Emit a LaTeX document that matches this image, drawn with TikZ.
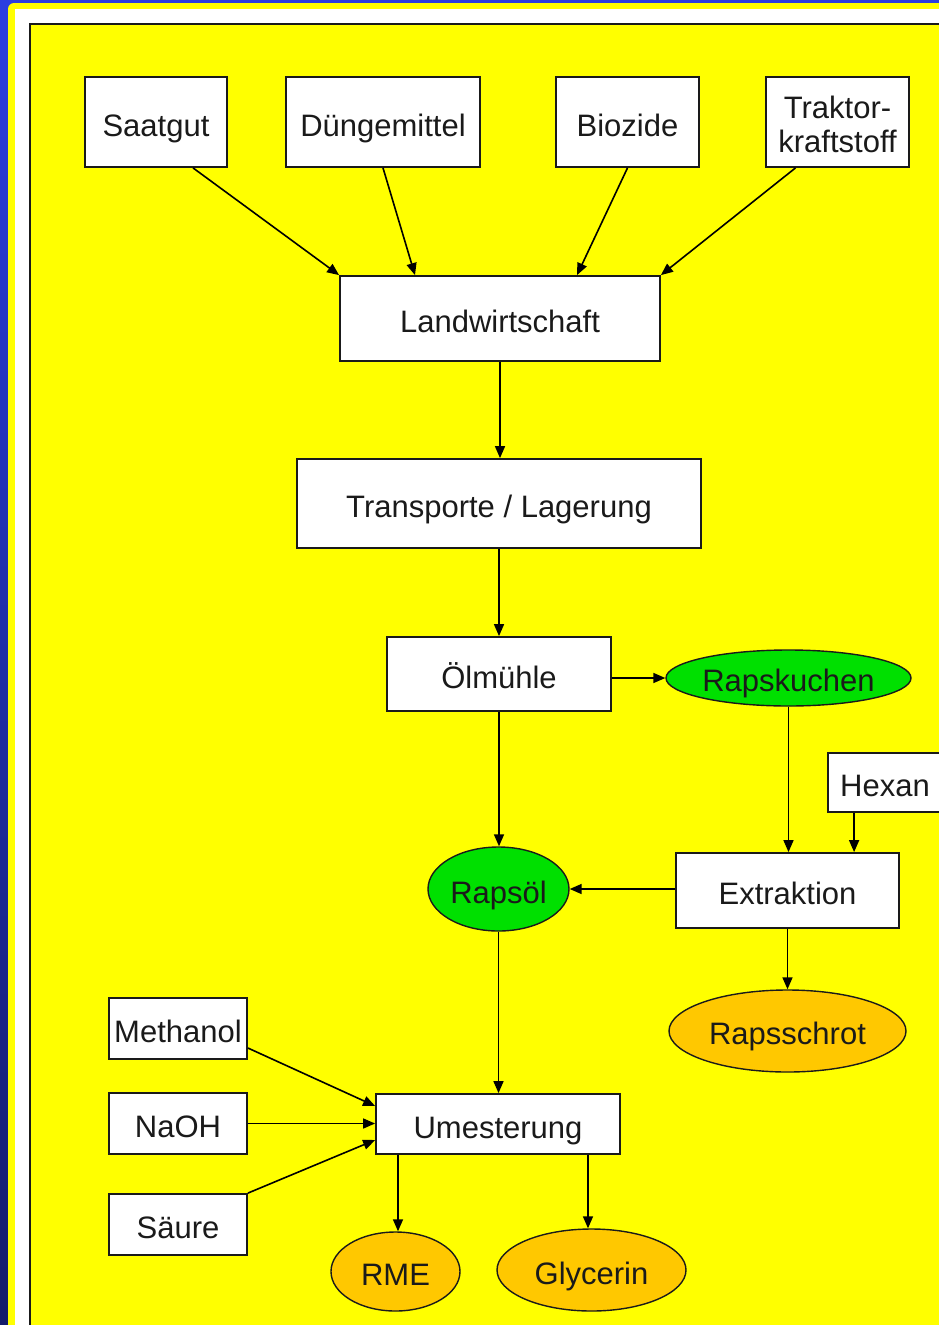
\documentclass[tikz,border=0pt]{standalone}
\usepackage{fontspec}
\setmainfont{Liberation Sans}
\usetikzlibrary{arrows.meta,shapes.geometric,calc}
\definecolor{bgblueA}{HTML}{2B3EE0}
\definecolor{bgblueB}{HTML}{141C6A}
\definecolor{plateyellow}{HTML}{FFFF00}
\definecolor{leafgreen}{HTML}{00E000}
\definecolor{amber}{HTML}{FFC800}
\definecolor{ink}{HTML}{1A1A1A}
\tikzset{
  boxbase/.style={draw=ink, line width=1.8pt, fill=white, rectangle, inner sep=0pt,
              font=\fontsize{31}{34}\selectfont, text=ink, align=center},
  box/.style={boxbase, text height=28pt, text depth=0pt},
  product/.style={draw=ink, line width=1.4pt, ellipse, inner sep=0pt,
              font=\fontsize{31}{34}\selectfont, text=ink, text height=27pt, text depth=0pt},
  arr/.style={draw=black, line width=1.6pt, -{Triangle[length=12pt,width=10pt]}},
}
\begin{document}
\begin{tikzpicture}[x=1pt,y=-1pt]
  \useasboundingbox (0,0) rectangle (939,1325);
  \clip (0,0) rectangle (939,1325);
  % backdrop and frame
  \shade[top color=bgblueA, bottom color=bgblueB] (0,0) rectangle (939,1325);
  \fill[plateyellow, rounded corners=6pt] (8,3) rectangle (960,1340);
  \fill[white] (15,9) rectangle (960,1340);
  \draw[ink, line width=1.8pt, fill=plateyellow] (30,24) rectangle (960,1340);

  % inputs to agriculture
  \node[box, minimum width=142pt, minimum height=90pt] (saat) at (156,122) {Saatgut};
  \node[box, minimum width=194pt, minimum height=90pt] (dung) at (383,122) {Düngemittel};
  \node[box, minimum width=143pt, minimum height=90pt] (bio)  at (627.5,122) {Biozide};
  \node[boxbase, minimum width=143pt, minimum height=90pt] (trak) at (837.5,122) {};
  \node[font=\fontsize{31}{34}\selectfont, text=ink, align=center, inner sep=0pt]
       (traktext) at ([yshift=-2pt]trak.center) {Traktor-\\kraftstoff};

  % main chain
  \node[box, minimum width=320pt, minimum height=85pt] (land)  at (500,318.5) {Landwirtschaft};
  \node[box, minimum width=404pt, minimum height=89pt] (trans) at (499,503.5) {Transporte / Lagerung};
  \node[box, minimum width=224pt, minimum height=74pt] (oel)   at (499,674) {Ölmühle};
  \node[product, fill=leafgreen, minimum width=245pt, minimum height=56pt] (rk) at (788.5,678) {Rapskuchen};
  \node[box, minimum width=114pt, minimum height=59pt] (hex)   at (885,782.5) {Hexan};
  \node[box, minimum width=223pt, minimum height=75pt] (extr)  at (787.5,890.5) {Extraktion};
  \node[product, fill=leafgreen, minimum width=141pt, minimum height=84pt, text height=29pt] (rol) at (498.5,889) {Rapsöl};
  \node[product, fill=amber, minimum width=237pt, minimum height=82pt] (rs) at (787.5,1031) {Rapsschrot};

  % transesterification
  \node[box, minimum width=138pt, minimum height=61pt] (meth) at (178,1028.5) {Methanol};
  \node[box, minimum width=138pt, minimum height=61pt] (naoh) at (178,1123.5) {NaOH};
  \node[box, minimum width=138pt, minimum height=61pt] (sau)  at (178,1224.5) {Säure};
  \node[box, minimum width=244pt, minimum height=60pt] (umest) at (498,1124) {Umesterung};
  \node[product, fill=amber, minimum width=129pt, minimum height=79pt] (rme) at (395.5,1271.5) {RME};
  \node[product, fill=amber, minimum width=189pt, minimum height=82pt, text height=28pt] (gly) at (591.5,1270) {Glycerin};

  % connectors
  \draw[arr] ([xshift=37pt]saat.south) -- (land.north west);
  \draw[arr] (dung.south) -- ([xshift=-85pt]land.north);
  \draw[arr] (bio.south) -- ([xshift=77pt]land.north);
  \draw[arr] ([xshift=-42pt]trak.south) -- (land.north east);
  \draw[arr] (land.south) -- (land.south |- trans.north);
  \draw[arr] (trans.south) -- (trans.south |- oel.north);
  \draw[arr] (oel.east |- rk.west) -- (rk.west);
  \draw[arr] (oel.south) -- (oel.south |- rol.north);
  \draw[arr] (rk.south) -- (rk.south |- extr.north);
  \draw[arr] ([xshift=27pt]hex.south west) -- ([xshift=27pt]hex.south west |- extr.north);
  \draw[arr] (extr.west |- rol.east) -- (rol.east);
  \draw[arr] (extr.south) -- (extr.south |- rs.north);
  \draw[arr] (rol.south) -- (rol.south |- umest.north);
  \draw[arr] ([yshift=-19.5pt]meth.east) -- ([yshift=18pt]umest.west);
  \draw[arr] (naoh.east) -- (naoh.east -| umest.west);
  \draw[arr] (sau.north east) -- ([yshift=-16pt]umest.west);
  \draw[arr] ([xshift=-100pt]umest.south) -- ([xshift=-100pt]umest.south |- rme.north);
  \draw[arr] ([xshift=90pt]umest.south) -- ([xshift=90pt]umest.south |- gly.north);
\end{tikzpicture}
\end{document}
